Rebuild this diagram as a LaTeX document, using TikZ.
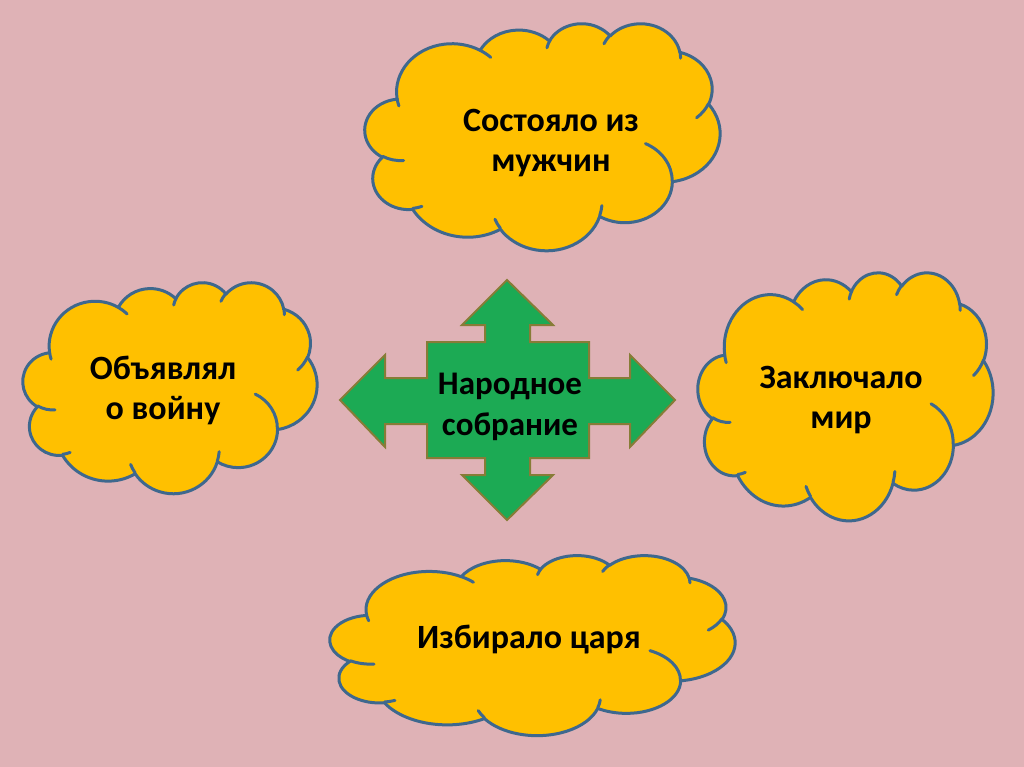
\documentclass[tikz,border=0pt]{standalone}
\usepackage{fontspec}
\setmainfont{Carlito}
\definecolor{bgpink}{RGB}{223,178,182}
\definecolor{cloudfill}{RGB}{255,192,0}
\definecolor{cloudline}{RGB}{62,104,142}
\definecolor{arrowfill}{RGB}{28,170,84}
\definecolor{arrowline}{RGB}{135,124,55}
\tikzset{
  cloudbody/.style={fill=cloudfill, draw=cloudline, line width=3pt, line join=round},
  cloudcrease/.style={draw=cloudline, line width=3pt, line cap=round},
  cloudtext/.style={font=\bfseries\fontsize{34}{40}\selectfont, align=center, text=black, inner sep=0pt},
  arrowtext/.style={font=\bfseries\fontsize{33}{41}\selectfont, align=center, text=black, inner sep=0pt},
  quadarrow/.style={fill=arrowfill, draw=arrowline, line width=2pt, line join=miter},
  varc/.style n args={4}{x radius=#1, y radius=#2,
    start angle={atan2(#1*sin(#3),#2*cos(#3))},
    delta angle={mod(atan2(#1*sin(#3+#4),#2*cos(#3+#4))-atan2(#1*sin(#3),#2*cos(#3))+720,360)}}
}
\newcommand{\drawcloud}[4]{%
\begin{scope}[shift={(#1,#2)}, xscale={#3/432}, yscale={#4/432}]
\path[cloudbody] (39.00,143.70)
  arc[varc={67.53}{91.90}{-190.487}{123.781}]
  arc[varc={53.33}{72.67}{-144.102}{89.945}]
  arc[varc={43.65}{59.45}{-145.808}{99.723}]
  arc[varc={48.57}{65.95}{-130.986}{117.242}]
  arc[varc={53.33}{72.73}{-78.709}{109.027}]
  arc[varc={67.75}{92.20}{-46.267}{130.269}]
  arc[varc={57.85}{78.67}{0.625}{114.033}]
  arc[varc={67.52}{92.15}{22.452}{115.173}]
  arc[varc={77.20}{105.43}{66.243}{75.711}]
  arc[varc={43.60}{59.18}{-274.942}{146.736}]
  arc[varc={43.45}{59.45}{-246.829}{152.519}]
  -- cycle;
\path[cloudcrease] (46.93,261.77) arc[varc={43.45}{59.45}{86.742}{26.430}];
\path[cloudcrease] (69.28,348.99) arc[varc={43.60}{59.18}{73.610}{11.447}];
\path[cloudcrease] (164.78,390.90) arc[varc={67.52}{92.15}{137.624}{14.081}];
\path[cloudcrease] (288.27,347.51) arc[varc={67.52}{92.15}{6.453}{15.998}];
\path[cloudcrease] (341.29,229.54) arc[varc={57.85}{78.67}{-70.292}{70.917}];
\path[cloudcrease] (417.98,153.54) arc[varc={53.33}{72.73}{30.318}{27.752}];
\path[cloudcrease] (383.24,54.26) arc[varc={48.57}{65.95}{-13.744}{14.859}];
\path[cloudcrease] (290.78,39.52) arc[varc={48.57}{65.95}{-149.181}{18.195}];
\path[cloudcrease] (221.41,47.20) arc[varc={43.65}{59.45}{-163.494}{17.686}];
\path[cloudcrease] (140.00,51.92) arc[varc={67.53}{91.90}{-66.707}{12.319}];
\path[cloudcrease] (41.27,157.89) arc[varc={67.53}{91.90}{157.654}{11.858}];
\end{scope}}
\begin{document}
\begin{tikzpicture}[x=1pt, y=-1pt]
\useasboundingbox (0,0) rectangle (1024,767);
\fill[bgpink] (0,0) rectangle (1024,767);
% clouds
\drawcloud{365}{23}{355}{227}
\drawcloud{23}{282}{294}{211}
\drawcloud{698}{272}{295}{248}
\drawcloud{330}{555}{405}{180}
% centre arrow
\path[quadarrow] (507,280) -- (553,325) -- (530,325) -- (530,342) -- (589,342) -- (589,378)
  -- (630,378) -- (630,355) -- (675,400) -- (630,447) -- (630,424) -- (589,424) -- (589,458)
  -- (530,458) -- (530,475) -- (553,475) -- (507,520) -- (462,475) -- (485,475) -- (485,458)
  -- (427,458) -- (427,424) -- (385,424) -- (385,447) -- (340,400) -- (385,355) -- (385,378)
  -- (427,378) -- (427,342) -- (485,342) -- (485,325) -- (462,325) -- cycle;
\node[arrowtext] (centre) at (510,407) {Народное\\собрание};
% texts
\node[cloudtext] (top) at (551,143) {Состояло из\\мужчин};
\node[cloudtext] (left) at (163,390) {Объявлял\\о войну};
\node[cloudtext] (right) at (841,400) {Заключало\\мир};
\node[cloudtext] (bottom) at (529,640) {Избирало царя};
\end{tikzpicture}
\end{document}
